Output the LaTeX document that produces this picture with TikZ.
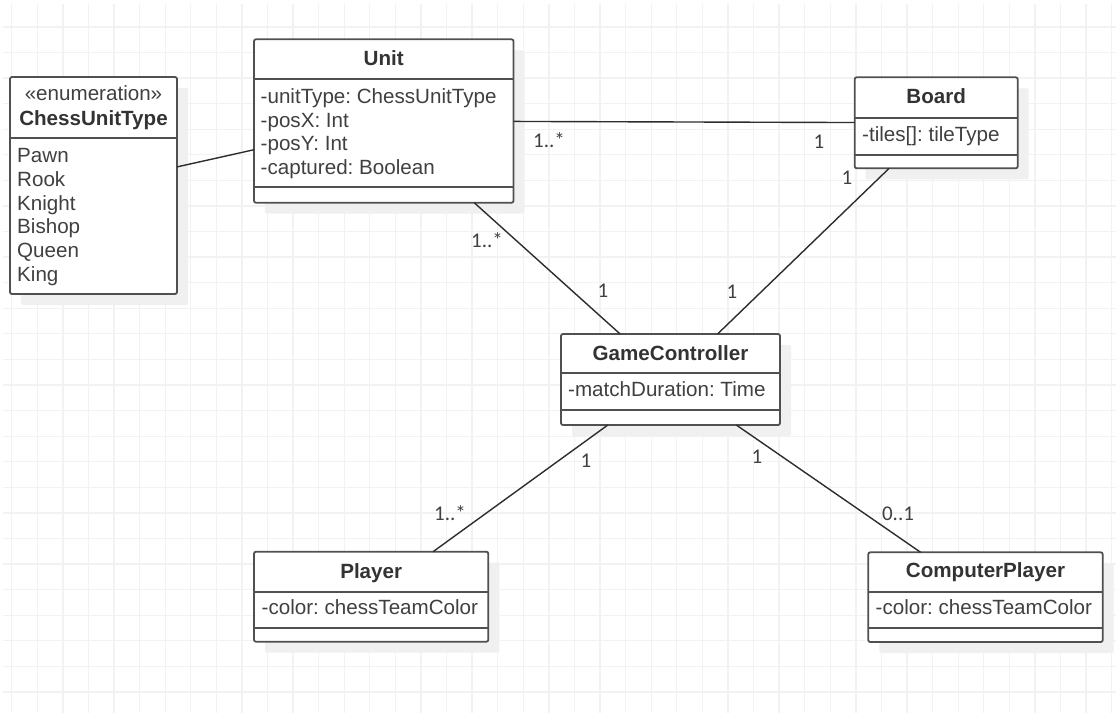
\documentclass[tikz,border=0pt]{standalone}
\usepackage{fontspec}
\setmainfont{Liberation Sans}
\newfontfamily\labelfont{Carlito}
\usetikzlibrary{shadows}

\definecolor{gridc}{RGB}{242,242,242}
\definecolor{shadowc}{RGB}{240,240,240}
\definecolor{edgec}{RGB}{80,80,80}
\definecolor{linkc}{RGB}{45,45,45}
\definecolor{textc}{RGB}{51,51,51}
\definecolor{attrc}{RGB}{64,64,64}

\tikzset{
  classbox/.style={draw=edgec, line width=1.8pt, fill=white, rounded corners=2pt,
    outer sep=0pt, inner sep=0pt, anchor=north west,
    drop shadow={shadow xshift=11pt, shadow yshift=-11pt, fill=shadowc, opacity=1}},
  divider/.style={draw=edgec, line width=1.8pt},
  classtitle/.style={font=\fontsize{20.6}{23.7}\selectfont\bfseries\frenchspacing, text=textc, inner sep=0pt, anchor=base},
  classstereo/.style={font=\fontsize{20.6}{23.7}\selectfont\frenchspacing, text=attrc, inner sep=0pt, anchor=base},
  classattr/.style={font=\fontsize{20.6}{23.7}\selectfont\frenchspacing, text=attrc, inner sep=0pt, anchor=base west},
  multlabel/.style={font=\labelfont\fontsize{21}{24}\selectfont, text=attrc, inner sep=0pt, anchor=base},
  assoc/.style={draw=linkc, line width=1.4pt},
  gridline/.style={draw=gridc, line width=1.3pt},
}

% class outline: name, left, top, width, height, depths of the compartment lines
\newcommand{\umlbox}[6]{%
  \node[classbox, minimum width=#4pt, minimum height=#5pt] (#1) at (#2,#3) {};
  \foreach \d in {#6} {\draw[divider] ([yshift=-\d pt]#1.north west) -- ([yshift=-\d pt]#1.north east);}
}

\begin{document}
\begin{tikzpicture}[x=1pt, y=-1pt]
\useasboundingbox (0,0) rectangle (1116,713);
\fill[white] (0,0) rectangle (1116,713);

% background grid
\foreach \k in {0,...,43}
  \draw[gridline] ({11.7+25.58*\k},4) -- ({11.7+25.58*\k},713);
\foreach \k in {1,...,27}
  \draw[gridline] (3,{1.3+25.58*\k}) -- (1116,{1.3+25.58*\k});

% classes
\umlbox{cut}{10}{77}{167}{217}{61.3}
\umlbox{unit}{254}{39.3}{259.5}{163.4}{40,148}
\umlbox{board}{854.7}{77.3}{163}{91}{41,77.7}
\umlbox{gc}{561}{334}{219}{91}{39.3,76}
\umlbox{player}{254}{551.7}{234.3}{90}{40,76.6}
\umlbox{cpu}{868.3}{552.3}{234.4}{89.7}{39.7,76}

% ChessUnitType
\node[classstereo] (cut-stereo) at (93.5,100.7) {«enumeration»};
\node[classtitle] (cut-title) at (93.5,125) {ChessUnitType};
\foreach \t [count=\i from 0] in {Pawn,Rook,Knight,Bishop,Queen,King}
  \node[classattr] (cut-item\i) at (17,{162.7+23.7*\i}) {\t};

% Unit
\node[classtitle] (unit-title) at (383.75,65) {Unit};
\foreach \t [count=\i from 0] in {-unitType: ChessUnitType,-posX: Int,-posY: Int,-captured: Boolean}
  \node[classattr] (unit-attr\i) at (260.5,{103.3+23.7*\i}) {\t};

% Board
\node[classtitle] (board-title) at (936.2,103.3) {Board};
\node[classattr] (board-attr) at (862,141) {-tiles[]: tileType};

% GameController
\node[classtitle] (gc-title) at (670.5,360.7) {GameController};
\node[classattr] (gc-attr) at (568,396.7) {-matchDuration: Time};

% Player
\node[classtitle] (player-title) at (371.2,578.3) {Player};
\node[classattr] (player-attr) at (261.5,614) {-color: chessTeamColor};

% ComputerPlayer
\node[classtitle] (cpu-title) at (985.5,577.7) {ComputerPlayer};
\node[classattr] (cpu-attr) at (875.5,614) {-color: chessTeamColor};

% associations
\draw[assoc] (cut) -- (unit);
\draw[assoc] (unit) -- (board);
\draw[assoc] (unit) -- (gc);
\draw[assoc] (board) -- (gc);
\draw[assoc] (gc) -- (player);
\draw[assoc] (gc) -- (cpu);

% multiplicities
\node[multlabel] (m-ub-u) at (549,147) {1..*};
\node[multlabel] (m-ub-b) at (819,148) {1};
\node[multlabel] (m-ug-u) at (487,247) {1..*};
\node[multlabel] (m-ug-g) at (603,297) {1};
\node[multlabel] (m-bg-b) at (847,184) {1};
\node[multlabel] (m-bg-g) at (732,298) {1};
\node[multlabel] (m-gp-g) at (586,467) {1};
\node[multlabel] (m-gp-p) at (450,520) {1..*};
\node[multlabel] (m-gc-g) at (757,463) {1};
\node[multlabel] (m-gc-c) at (898,520) {0..1};
\end{tikzpicture}
\end{document}
